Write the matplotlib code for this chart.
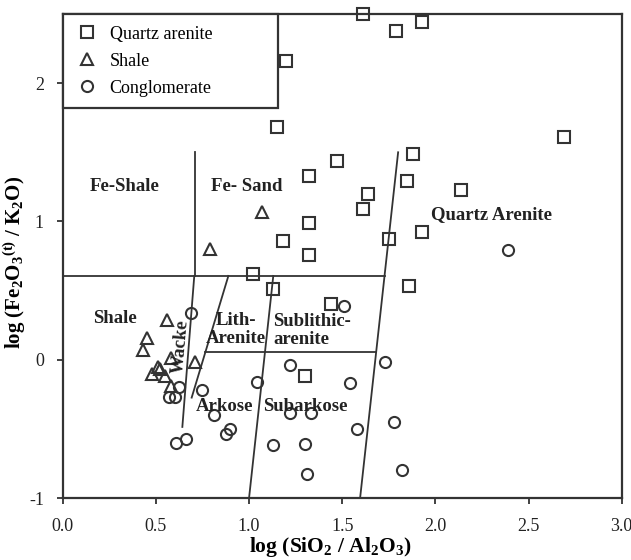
import matplotlib
matplotlib.use("Agg")
import matplotlib.pyplot as plt

# Herron (1988) style classification: log(SiO2/Al2O3) vs log(Fe2O3t/K2O)

quartz_x = [1.61, 1.79, 1.93, 1.20, 1.15, 1.47, 1.32, 1.88, 1.85, 1.64, 1.61, 1.32,
            1.18, 1.75, 1.32, 1.02, 1.13, 1.86, 2.69, 2.14, 1.93, 1.44, 1.30]
quartz_y = [2.50, 2.38, 2.44, 2.16, 1.68, 1.44, 1.33, 1.49, 1.29, 1.20, 1.09, 0.99,
            0.86, 0.87, 0.76, 0.62, 0.51, 0.53, 1.61, 1.23, 0.92, 0.40, -0.12]

shale_x = [1.07, 0.79, 0.56, 0.45, 0.43, 0.58, 0.71, 0.51, 0.52, 0.48, 0.55, 0.58]
shale_y = [1.07, 0.80, 0.29, 0.16, 0.07, 0.01, -0.02, -0.05, -0.07, -0.10, -0.12, -0.19]

congl_x = [2.39, 1.51, 1.73, 1.54, 1.78, 1.58, 1.82, 1.33, 1.30, 1.31, 1.22, 1.04,
           0.75, 0.81, 1.22, 0.90, 0.875, 1.13, 0.66, 0.61, 0.69, 0.625, 0.57, 0.60]
congl_y = [0.79, 0.385, -0.02, -0.17, -0.45, -0.50, -0.80, -0.385, -0.61, -0.83, -0.04, -0.16,
           -0.22, -0.40, -0.385, -0.50, -0.54, -0.62, -0.575, -0.60, 0.34, -0.195, -0.27, -0.27]

# field boundaries (x pairs, y pairs)
boundaries = [
    ([0.71, 0.71], [0.606, 1.5]),
    ([0.0, 1.727], [0.606, 0.606]),
    ([0.706, 0.642], [0.606, -0.486]),
    ([0.889, 0.692], [0.606, -0.274]),
    ([0.766, 1.682], [0.058, 0.058]),
    ([1.13, 1.0], [0.606, -1.0]),
    ([1.80, 1.596], [1.5, -1.0]),
]

field_names = ["Fe-Shale", "Fe- Sand", "Quartz Arenite", "Shale", "Lith-\nArenite",
               "Arkose", "Subarkose"]
field_x = [0.33, 0.986, 2.30, 0.279, 0.928, 0.867, 1.30]
field_y = [1.25, 1.25, 1.047, 0.30, 0.219, -0.337, -0.337]

plt.rcParams["font.family"] = "Liberation Serif"
plt.rcParams["axes.unicode_minus"] = False
plt.rcParams["mathtext.fontset"] = "custom"
plt.rcParams["mathtext.rm"] = "Liberation Serif:bold"
plt.rcParams["mathtext.it"] = "Liberation Serif:bold"
plt.rcParams["mathtext.bf"] = "Liberation Serif:bold"

ink = "#333333"

fig = plt.figure(figsize=(6.31, 5.6), dpi=100)
ax = fig.add_axes([0.0994, 0.1107, 0.8859, 0.8643])

for bx, by in boundaries:
    ax.plot(bx, by, color=ink, lw=1.3, zorder=1)

mk = dict(linestyle="none", markerfacecolor="none", markeredgecolor=ink,
          markeredgewidth=1.5, clip_on=False, zorder=3)
ax.plot(quartz_x, quartz_y, marker="s", markersize=8, label="Quartz arenite", **mk)
ax.plot(shale_x, shale_y, marker="^", markersize=9, label="Shale", **mk)
ax.plot(congl_x, congl_y, marker="o", markersize=8, label="Conglomerate", **mk)

for name, tx, ty in zip(field_names, field_x, field_y):
    ax.text(tx, ty, name, ha="center", va="center", fontsize=13.5,
            fontweight="bold", color="#222222", linespacing=1.1)
ax.text(1.13, 0.213, "Sublithic-\narenite", ha="left", va="center", fontsize=13.5,
        fontweight="bold", color="#222222", linespacing=1.1)
ax.text(0.635, 0.094, "Wacke", ha="center", va="center", fontsize=13.5,
        fontweight="bold", color="#222222", rotation=85)

ax.set_xlim(0, 3.0)
ax.set_ylim(-1, 2.5)
ax.set_xticks([0.0, 0.5, 1.0, 1.5, 2.0, 2.5, 3.0])
ax.set_xticklabels(["0.0", "0.5", "1.0", "1.5", "2.0", "2.5", "3.0"])
ax.set_yticks([-1, 0, 1, 2])
ax.tick_params(direction="out", length=4.5, width=1.3, color=ink,
               labelsize=13, labelcolor="#222222")
ax.tick_params(axis="x", pad=10)
ax.tick_params(axis="y", pad=9)
for sp in ax.spines.values():
    sp.set_color(ink)
    sp.set_linewidth(1.6)

ax.set_xlabel(r"log (SiO$_2$ / Al$_2$O$_3$)", fontsize=15.5, fontweight="bold")
ax.set_ylabel(r"log (Fe$_2$O$_3$$^{(\mathrm{t})}$ / K$_2$O)", fontsize=15,
              fontweight="bold")
ax.xaxis.set_label_coords(0.478, -0.076)
ax.yaxis.set_label_coords(-0.062, 0.486)

leg = ax.legend(loc="upper left", bbox_to_anchor=(0, 0.803, 0.385, 0.197),
                mode="expand", borderaxespad=0, fontsize=13, fancybox=False,
                borderpad=0.65, handlelength=1.4, handletextpad=0.55,
                labelspacing=0.55)
leg.get_frame().set_edgecolor(ink)
leg.get_frame().set_linewidth(1.6)
leg.get_frame().set_alpha(1)

fig.savefig("out.png", dpi=100)
